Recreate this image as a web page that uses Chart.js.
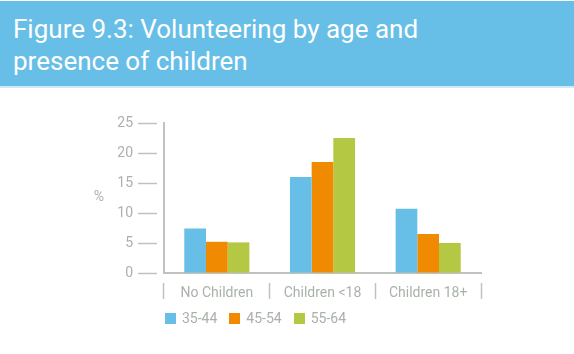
<!DOCTYPE html>
<html>
<head>
<meta charset="utf-8">
<script src="https://cdn.jsdelivr.net/npm/chart.js@4/dist/chart.umd.min.js"></script>
<style>
  body { margin: 0; background: #fff; font-family: Roboto, "Noto Sans", sans-serif; }
  #wrap { position: relative; width: 574px; height: 354px; overflow: hidden; }
  #header {
    position: absolute; left: 0; top: 1px; width: 574px; height: 85px;
    background: #67BEE7; color: #fff; font-size: 26px; line-height: 32px;
    box-sizing: border-box; padding: 12px 0 0 13px; z-index: 2;
  }
  #header::after {
    content: ""; position: absolute; left: 0; right: 0; bottom: -2px; height: 2px; background: #cfe9f6;
  }
  canvas { position: absolute; left: 0; top: 0; }
  #legend { position: absolute; left: 165px; top: 310px; display: flex; font-size: 14px; color: #A9B1A9; }
  #legend span.item { display: flex; align-items: center; margin-right: 12px; }
  #legend span.box { display: inline-block; width: 11px; height: 11px; margin-right: 6px; }
</style>
</head>
<body>
<div id="wrap">
  <div id="header">Figure 9.3: Volunteering by age and<br>presence of children</div>
  <canvas id="chart" width="574" height="354"></canvas>
  <div id="legend"></div>
</div>
<script>
// ------- DATA -------
const categories = ["No Children", "Children <18", "Children 18+"];
const seriesNames = ["35-44", "45-54", "55-64"];
const age35to44 = [7.4, 16.0, 10.7];
const age45to54 = [5.2, 18.5, 6.5];
const age55to64 = [5.1, 22.5, 5.0];
const yTicks = [0, 5, 10, 15, 20, 25];

const colors = ["#67BEE7", "#F08A00", "#B5C843"];
const textGray = "#A9B1A9";
const lineGray = "#BEC3BE";
const fontFamily = "Roboto, 'Noto Sans', sans-serif";

// ------- "%" LABEL -------
const percentLabel = {
  id: "percentLabel",
  afterDraw(chart) {
    const y = chart.scales.y;
    const ctx = chart.ctx;
    ctx.save();
    ctx.fillStyle = textGray;
    ctx.font = "14px " + fontFamily;
    ctx.textAlign = "center";
    ctx.textBaseline = "middle";
    ctx.fillText("%", 99, (y.top + y.bottom) / 2 - 1);
    ctx.restore();
  }
};

const chart = new Chart(document.getElementById("chart"), {
  type: "bar",
  data: {
    labels: categories,
    datasets: [
      { label: seriesNames[0], data: age35to44, backgroundColor: colors[0] },
      { label: seriesNames[1], data: age45to54, backgroundColor: colors[1] },
      { label: seriesNames[2], data: age55to64, backgroundColor: colors[2] }
    ]
  },
  options: {
    responsive: false,
    animation: false,
    datasets: {
      bar: { categoryPercentage: 0.616, barPercentage: 1 }
    },
    layout: { padding: { left: 104, right: 93, top: 123, bottom: 0 } },
    plugins: {
      legend: { display: false },
      tooltip: { enabled: false }
    },
    scales: {
      x: {
        grid: {
          offset: true,
          drawOnChartArea: false,
          drawTicks: true,
          tickLength: 26,
          tickColor: lineGray,
          tickWidth: 1.5,
          tickBorderDash: [17, 9],
          tickBorderDashOffset: 17
        },
        border: { color: lineGray, width: 2 },
        ticks: {
          color: textGray,
          font: { size: 14, family: fontFamily },
          padding: -14
        },
        afterFit(scale) { scale.height = 81; }
      },
      y: {
        min: 0,
        max: 25,
        afterBuildTicks(scale) { scale.ticks = yTicks.map(v => ({ value: v })); },
        grid: {
          drawOnChartArea: false,
          drawTicks: true,
          tickLength: 26,
          tickColor: lineGray,
          tickWidth: 1.5,
          tickBorderDash: [19, 7]
        },
        border: { color: lineGray, width: 2 },
        ticks: {
          color: textGray,
          font: { size: 14, family: fontFamily },
          padding: 5
        },
        afterFit(scale) { scale.width = 60; }
      }
    }
  },
  plugins: [percentLabel]
});

// ------- LEGEND -------
const legend = document.getElementById("legend");
seriesNames.forEach((name, i) => {
  const item = document.createElement("span");
  item.className = "item";
  item.innerHTML = `<span class="box" style="background:${colors[i]}"></span>${name}`;
  legend.appendChild(item);
});
</script>
</body>
</html>
